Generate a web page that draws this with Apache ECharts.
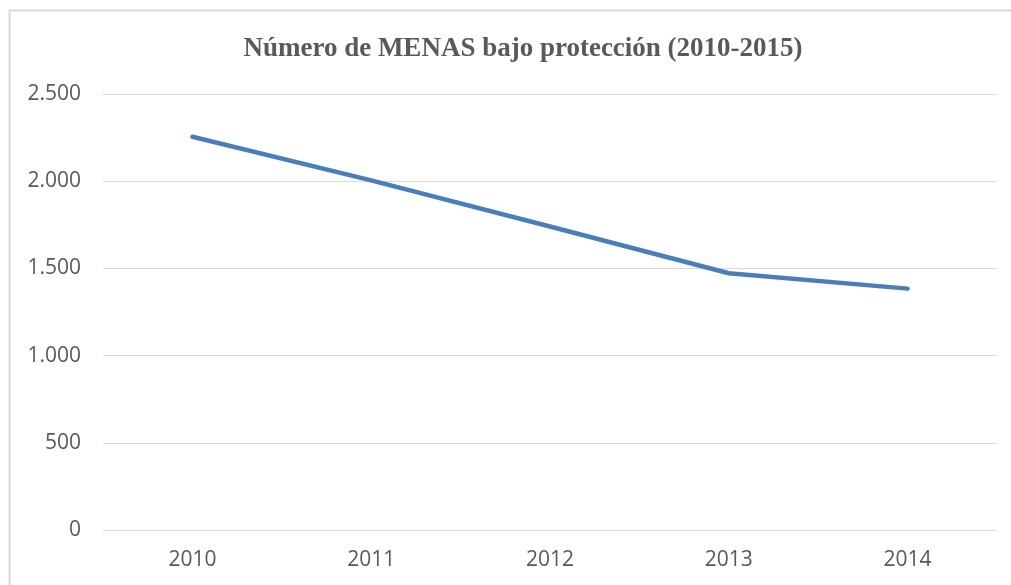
<!DOCTYPE html>
<html>
<head>
<meta charset="utf-8">
<script src="https://cdn.jsdelivr.net/npm/echarts@6/dist/echarts.min.js"></script>
<style>
  html, body { margin: 0; padding: 0; background: #fff; }
  #chart { width: 1011px; height: 585px; }
</style>
</head>
<body>
<div id="chart"></div>
<script>
// 数据
const years = ['2010', '2011', '2012', '2013', '2014']
const menas = [2255, 2005, 1740, 1472, 1384]
const yTicks = [0, 500, 1000, 1500, 2000, 2500]

const chart = echarts.init(document.getElementById('chart'))

const option = {
  animation: false,
  backgroundColor: '#fff',
  title: {
    text: 'Número de MENAS bajo protección (2010-2015)',
    left: 518,
    textAlign: 'center',
    top: 31,
    textStyle: {
      fontFamily: 'Liberation Serif',
      fontWeight: 'bold',
      fontSize: 27,
      color: '#595959'
    }
  },
  // 外框
  graphic: [
    {
      type: 'rect',
      shape: { x: 9.5, y: 10.5, width: 1100, height: 700 },
      style: { fill: 'none', stroke: '#d9d9d9', lineWidth: 2 },
      silent: true
    }
  ],
  grid: {
    left: 103,
    right: 14,
    top: 94,
    bottom: 55
  },
  xAxis: {
    type: 'category',
    data: years,
    boundaryGap: true,
    axisLine: { show: false },
    axisTick: { show: false },
    axisLabel: {
      margin: 20,
      fontFamily: 'Open Sans',
      fontSize: 21,
      color: '#595959'
    }
  },
  yAxis: {
    type: 'value',
    min: yTicks[0],
    max: yTicks[yTicks.length - 1],
    interval: 500,
    axisLine: { show: false },
    axisTick: { show: false },
    splitLine: { lineStyle: { color: '#d9d9d9', width: 1 } },
    axisLabel: {
      margin: 22,
      fontFamily: 'Open Sans',
      fontSize: 21,
      color: '#595959',
      formatter: v => String(v).replace(/\B(?=(\d{3})+(?!\d))/g, '.')
    }
  },
  series: [
    {
      type: 'line',
      data: menas,
      symbol: 'none',
      lineStyle: { color: '#4a7ebb', width: 4.5, cap: 'round' },
      itemStyle: { color: '#4a7ebb' }
    }
  ]
}

chart.setOption(option)
</script>
</body>
</html>
